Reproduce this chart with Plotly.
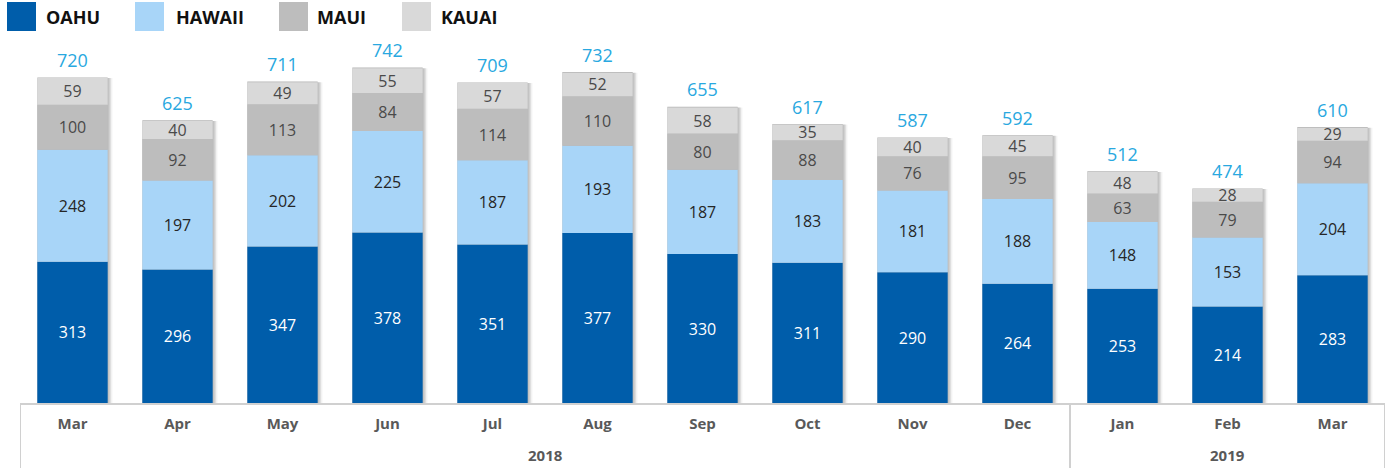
import plotly.graph_objects as go

years = ["2018", "2019"]
year_counts = [10, 3]
months = ["Mar", "Apr", "May", "Jun", "Jul", "Aug", "Sep", "Oct", "Nov", "Dec", "Jan", "Feb", "Mar"]
oahu = [313, 296, 347, 378, 351, 377, 330, 311, 290, 264, 253, 214, 283]
hawaii = [248, 197, 202, 225, 187, 193, 187, 183, 181, 188, 148, 153, 204]
maui = [100, 92, 113, 84, 114, 110, 80, 88, 76, 95, 63, 79, 94]
kauai = [59, 40, 49, 55, 57, 52, 58, 35, 40, 45, 48, 28, 29]
totals = [720, 625, 711, 742, 709, 732, 655, 617, 587, 592, 512, 474, 610]

series = [
    ("OAHU", oahu, "#005DAA", "white"),
    ("HAWAII", hawaii, "#A8D5F8", "#262626"),
    ("MAUI", maui, "#BDBDBD", "#4A4A4A"),
    ("KAUAI", kauai, "#D9D9D9", "#4A4A4A"),
]

n = len(months)
xs = list(range(n))
BW = 0.67
fig = go.Figure()

# soft shadow behind bars
for k, a in [(0.045, 0.05), (0.032, 0.08), (0.018, 0.12)]:
    fig.add_trace(go.Bar(x=xs, y=totals, width=BW, offset=-BW / 2 + k,
                         marker=dict(color="rgba(0,0,0,%g)" % a, line_width=0),
                         hoverinfo="skip", showlegend=False))
# thin top edge
fig.add_trace(go.Bar(x=xs, y=[t + 1.5 for t in totals], width=BW, offset=-BW / 2,
                     marker=dict(color="#B5B5B5", line_width=0),
                     hoverinfo="skip", showlegend=False))

base = [0] * n
for name, vals, col, tcol in series:
    fig.add_trace(go.Bar(
        x=xs, y=vals, base=base[:], name=name, width=BW, offset=-BW / 2,
        marker=dict(color=col, line_width=0),
        text=[str(v) for v in vals], textposition="inside", insidetextanchor="middle",
        textangle=0,
        textfont=dict(family="Open Sans", size=16, color=tcol),
        constraintext="none", showlegend=False, cliponaxis=False,
    ))
    base = [b + v for b, v in zip(base, vals)]

PW, PH, L, B = 1365.0, 361.0, 20.0, 403.0
def px(xp):
    return (xp - L) / PW
def py(yp):
    return (B - yp) / PH

shapes = []
annotations = []

for xi, t in zip(xs, totals):
    annotations.append(dict(x=xi, y=t, xref="x", yref="y", text=str(t), showarrow=False,
                            yanchor="bottom", yshift=4,
                            font=dict(family="Open Sans", size=18, color="#29A8E0")))

# custom legend
leg_sq = [7, 135, 279, 402]
leg_tx = [44, 174, 315, 439]
for (name, vals, col, tcol), sx, tx in zip(series, leg_sq, leg_tx):
    shapes.append(dict(type="rect", xref="paper", yref="paper",
                       x0=px(sx), x1=px(sx + 29), y0=py(31), y1=py(2),
                       fillcolor=col, line_width=0, layer="above"))
    annotations.append(dict(xref="paper", yref="paper", x=px(tx), y=py(17),
                            text="<b>%s</b>" % name, showarrow=False,
                            xanchor="left", yanchor="middle",
                            font=dict(family="Open Sans", size=18, color="#111111")))

# year group dividers and labels
start = 0
edges = [-0.5]
for yr, cnt in zip(years, year_counts):
    end = start + cnt
    edges.append(end - 0.5)
    annotations.append(dict(xref="x", yref="paper", x=(start + end - 1) / 2, y=py(455),
                            text="<b>%s</b>" % yr, showarrow=False, yanchor="middle",
                            font=dict(family="Open Sans", size=15, color="#595959")))
    start = end
for e in edges:
    shapes.append(dict(type="line", xref="x", yref="paper", x0=e, x1=e,
                       y0=0, y1=py(470), line=dict(color="#D0D0D0", width=2)))

fig.update_layout(
    width=1387, height=468,
    margin=dict(l=20, r=2, t=42, b=65),
    plot_bgcolor="white", paper_bgcolor="white",
    barmode="overlay",
    shapes=shapes, annotations=annotations,
    xaxis=dict(range=[-0.5, n - 0.5], showline=True, linecolor="#D0D0D0", linewidth=2,
               tickmode="array", tickvals=xs, ticktext=["<b>%s</b>" % m for m in months],
               ticks="", showgrid=False, zeroline=False, ticklabelstandoff=6,
               tickfont=dict(family="Open Sans", size=15, color="#595959")),
    yaxis=dict(range=[0, 800], visible=False, showgrid=False, zeroline=False),
)

fig.write_html("out.html")
